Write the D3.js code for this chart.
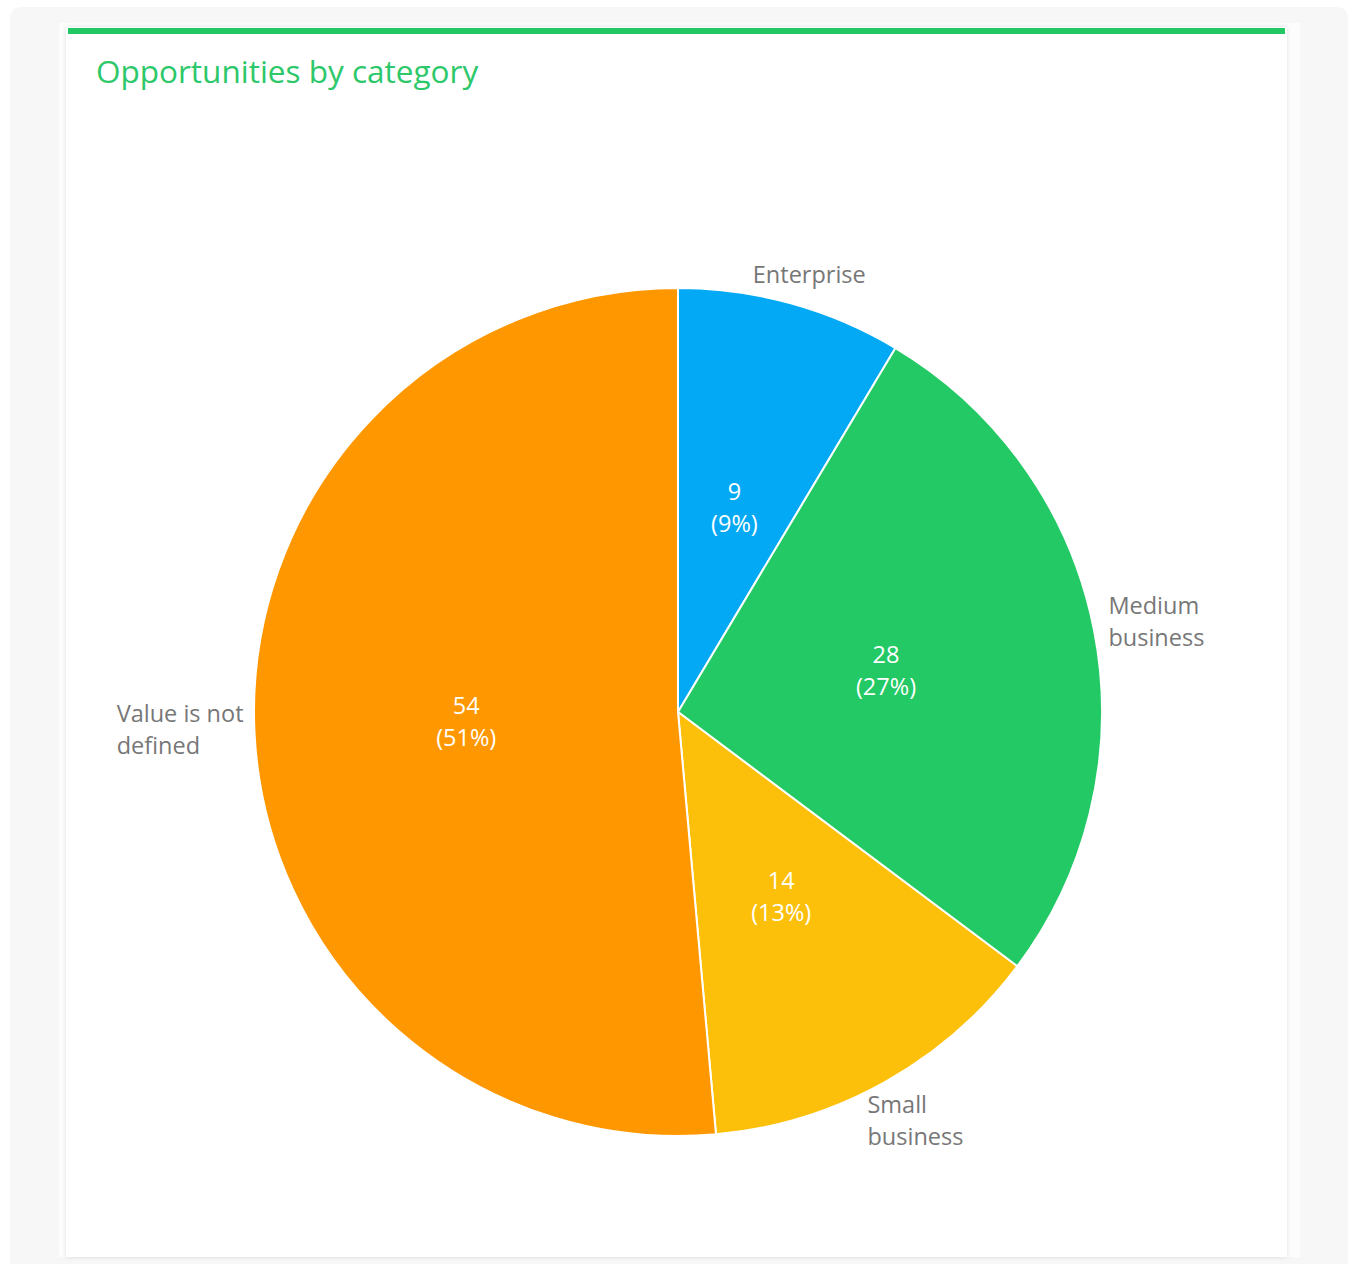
<!DOCTYPE html>
<html><head><meta charset="utf-8">
<script src="https://cdn.jsdelivr.net/npm/d3@7"></script>
<style>
html,body{margin:0;padding:0;background:#fff;}
svg{display:block;font-family:"Open Sans",sans-serif;}
</style></head>
<body>
<svg id="chart" width="1353" height="1264"></svg>
<script>
const title = "Opportunities by category";
const categories = ["Enterprise", "Medium business", "Small business", "Value is not defined"];
const labelLines = [["Enterprise"], ["Medium", "business"], ["Small", "business"], ["Value is not", "defined"]];
const values = [9, 28, 14, 54];
const colors = ["#03a9f4", "#22c964", "#fdc00a", "#ff9800"];

const svg = d3.select("#chart");
svg.append("path")
  .attr("d", "M10,19 Q10,7 22,7 L1336,7 Q1348,7 1348,19 L1348,1264 L10,1264 Z")
  .attr("fill", "#f7f7f7");
const defs = svg.append("defs");
const f = defs.append("filter").attr("id", "sh").attr("x", "-5%").attr("y", "-5%").attr("width", "110%").attr("height", "110%");
f.append("feDropShadow").attr("dx", 0).attr("dy", 0).attr("stdDeviation", 2).attr("flood-color", "#000").attr("flood-opacity", 0.12);
svg.append("rect").attr("x", 59).attr("y", 23).attr("width", 1241).attr("height", 1234).attr("fill", "#fdfdfd");
svg.append("rect").attr("x", 66).attr("y", 27).attr("width", 1221).attr("height", 1230).attr("fill", "#fff").attr("filter", "url(#sh)");
svg.append("rect").attr("x", 68).attr("y", 28).attr("width", 1217).attr("height", 6).attr("fill", "#22c864");
svg.append("text").attr("x", 96).attr("y", 83).attr("font-size", 31.5).attr("fill", "#2dc86a").text(title);

const cx = 678, cy = 712, r = 424;
const g = svg.append("g").attr("transform", `translate(${cx},${cy})`);
const total = d3.sum(values);
const pie = d3.pie().sort(null).value(d => d)(values);
const arc = d3.arc().innerRadius(0).outerRadius(r);
g.selectAll("path.slice").data(pie).join("path")
  .attr("class", "slice")
  .attr("d", arc)
  .attr("fill", (d, i) => colors[i])
  .attr("stroke", "#fff").attr("stroke-width", 2).attr("stroke-linejoin", "round");

const inner = d3.arc().innerRadius(r * 0.5).outerRadius(r * 0.5);
pie.forEach((d, i) => {
  const [x, y] = inner.centroid(d);
  const t = g.append("text").attr("text-anchor", "middle").attr("fill", "#fff").attr("font-size", 23.5);
  t.append("tspan").attr("x", x).attr("y", y - 16).attr("dy", "0.35em").text(values[i]);
  t.append("tspan").attr("x", x).attr("y", y + 16).attr("dy", "0.35em").text("(" + Math.round(values[i] / total * 100) + "%)");
});

const outer = d3.arc().innerRadius(r + 30).outerRadius(r + 30);
pie.forEach((d, i) => {
  const [x, y0] = outer.centroid(d);
  const a = (d.startAngle + d.endAngle) / 2;
  const c = Math.cos(a);
  const y = y0 + (c < 0 ? -c * 14 : 0) - (Math.abs(Math.sin(a)) > 0.9 ? 3 : 0);
  const lines = labelLines[i];
  const t = g.append("text").attr("fill", "#777").attr("font-size", 23.5).attr("text-anchor", "start");
  lines.forEach((l, j) => {
    t.append("tspan").attr("x", 0).attr("y", y + (j - (lines.length - 1) / 2) * 32).attr("dy", "0.35em").text(l);
  });
  const w = t.node().getBBox().width;
  const xc = x + Math.sin(a) * w / 2 * 0.7;
  t.selectAll("tspan").attr("x", xc - w / 2);
});
</script>
</body></html>
